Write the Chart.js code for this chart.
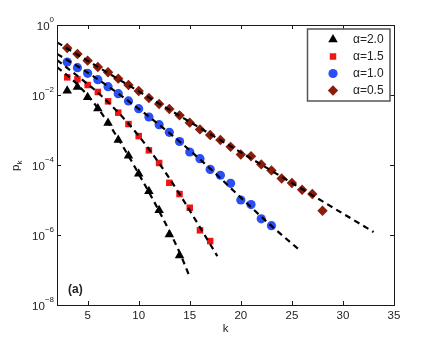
<!DOCTYPE html>
<html><head><meta charset="utf-8">
<script src="https://cdn.jsdelivr.net/npm/chart.js@4/dist/chart.umd.min.js"></script>
<style>html,body{margin:0;padding:0;background:#fff}#wrap{width:436px;height:344px}</style>
</head><body><div id="wrap"><canvas id="c" width="436" height="344"></canvas></div>
<script>
const seriesLabels = ['α=2.0', 'α=1.5', 'α=1.0', 'α=0.5'];
const xTicks = [5, 10, 15, 20, 25, 30, 35];
const yTickExps = [0, -2, -4, -6, -8];

// markers (k, p_k)
const kA20 = [3,4,5,6,7,8,9,10,11,12,13,14];
const pA20 = [0.0133,0.0169,0.0086,0.0041,0.00158,5.2e-4,1.85e-4,5.6e-5,1.77e-5,5.1e-6,1.04e-6,2.6e-7];
const kA15 = [3,4,5,6,7,8,9,10,11,12,13,14,15,16,17];
const pA15 = [0.032,0.028,0.0193,0.0122,0.0066,0.00313,0.00148,6.7e-4,2.62e-4,1.14e-4,3.1e-5,1.48e-5,6.0e-6,1.36e-6,6.7e-7];
const kA10 = [3,4,5,6,7,8,9,10,11,12,13,14,15,16,17,18,19,20,21,22,23];
const pA10 = [0.0877,0.0604,0.0416,0.0274,0.0173,0.0109,0.00675,0.00407,0.00235,0.00142,8.6e-4,4.7e-4,2.35e-4,1.52e-4,7.5e-5,5.1e-5,3.0e-5,1.0e-5,7.4e-6,2.9e-6,1.85e-6];
const kA05 = [3,4,5,6,7,8,9,10,11,12,13,14,15,16,17,18,19,20,21,22,23,24,25,26,27,28];
const pA05 = [0.220,0.148,0.0957,0.0631,0.0445,0.0293,0.0193,0.0130,0.0082,0.00553,0.00398,0.00262,0.00162,0.00104,7.2e-4,5.2e-4,3.3e-4,2.0e-4,1.77e-4,1.04e-4,7.0e-5,4.1e-5,3.06e-5,1.97e-5,1.48e-5,4.95e-6];

// dashed fit curves
const kFit20 = [2,4,6,8,10,12,14,15];
const pFit20 = [0.063,0.02,0.0042,5.6e-4,5.6e-5,4.8e-6,3.2e-7,6.3e-8];
const kFit15 = [2,4,6,8,10,12,14,16,17.7];
const pFit15 = [0.1,0.035,0.0117,0.00316,6.8e-4,1.12e-4,1.48e-5,1.66e-6,2.5e-7];
const kFit10 = [2,5,8,11,14,17,20,23,25.8];
const pFit10 = [0.15,0.0437,0.011,0.0024,4.7e-4,7.9e-5,1.17e-5,1.82e-6,3.6e-7];
const kFit05 = [2,10,20,33];
const pFit05 = [0.32,0.0127,2.3e-4,1.22e-6];

const colors = ['#000000', '#f01414', '#2a4ff5', '#8a1c0a'];
const styles = ['triangle', 'rect', 'circle', 'rectRot'];
const radii = [5.5, 4.6, 4.6, 5.2];

const pts = (ks, ps) => ks.map((k, i) => ({x: k, y: ps[i]}));
const markerSets = [[kA20,pA20],[kA15,pA15],[kA10,pA10],[kA05,pA05]];
const fitSets = [[kFit20,pFit20],[kFit15,pFit15],[kFit10,pFit10],[kFit05,pFit05]];

const datasets = [];
markerSets.forEach((s, i) => datasets.push({
  label: seriesLabels[i], data: pts(s[0], s[1]), showLine: false,
  pointStyle: styles[i], pointRadius: radii[i], pointBackgroundColor: colors[i],
  pointBorderWidth: 0, pointBorderColor: colors[i], order: 1
}));
fitSets.forEach((s, i) => datasets.push({
  label: 'fit', data: pts(s[0], s[1]), showLine: true, pointRadius: 0,
  borderColor: '#000', borderWidth: 2.2, borderDash: [6, 4.5],
  cubicInterpolationMode: 'monotone', fill: false, order: 0
}));

const FONT = '"Liberation Sans", Arial, Helvetica, sans-serif';

const deco = {
  id: 'deco',
  afterDraw(chart) {
    const ctx = chart.ctx, a = chart.chartArea;
    const xs = chart.scales.x, ys = chart.scales.y;
    ctx.save();
    // frame
    ctx.strokeStyle = '#1a1a1a'; ctx.lineWidth = 1;
    ctx.strokeRect(Math.round(a.left) + 0.5, Math.round(a.top) + 0.5,
                   Math.round(a.right - a.left), Math.round(a.bottom - a.top));
    // ticks
    ctx.beginPath();
    xTicks.forEach(v => {
      const px = Math.round(xs.getPixelForValue(v)) + 0.5;
      ctx.moveTo(px, a.bottom); ctx.lineTo(px, a.bottom - 4);
      ctx.moveTo(px, a.top); ctx.lineTo(px, a.top + 4);
    });
    yTickExps.forEach(e => {
      const py = Math.round(ys.getPixelForValue(Math.pow(10, e))) + 0.5;
      ctx.moveTo(a.left, py); ctx.lineTo(a.left + 4, py);
      ctx.moveTo(a.right, py); ctx.lineTo(a.right - 4, py);
    });
    ctx.stroke();
    // x tick labels
    ctx.fillStyle = '#222';
    ctx.font = '11.5px ' + FONT;
    ctx.textAlign = 'center'; ctx.textBaseline = 'middle';
    xTicks.forEach(v => ctx.fillText(String(v), xs.getPixelForValue(v), a.bottom + 11));
    // y tick labels 10^e
    yTickExps.forEach(e => {
      const py = ys.getPixelForValue(Math.pow(10, e));
      const expStr = e === 0 ? '0' : '\u2212' + Math.abs(e);
      ctx.font = '8px ' + FONT;
      const ew = ctx.measureText(expStr).width;
      const right = a.left - 3;
      ctx.textAlign = 'left'; ctx.textBaseline = 'alphabetic';
      ctx.fillText(expStr, right - ew, py - 3);
      ctx.font = '11.5px ' + FONT;
      ctx.textAlign = 'right';
      ctx.fillText('10', right - ew, py + 4.5);
    });
    // axis titles
    ctx.font = '11.5px ' + FONT;
    ctx.textAlign = 'center'; ctx.textBaseline = 'middle';
    ctx.fillText('k', (a.left + a.right) / 2, 329);
    ctx.save();
    ctx.translate(15, (a.top + a.bottom) / 2);
    ctx.rotate(-Math.PI / 2);
    ctx.textAlign = 'left'; ctx.textBaseline = 'alphabetic';
    ctx.font = '11.5px ' + FONT;
    const pw = ctx.measureText('p').width;
    ctx.fillText('p', -6, 4);
    ctx.font = '8px ' + FONT;
    ctx.fillText('k', -6 + pw, 7);
    ctx.restore();
    // panel tag
    ctx.font = 'bold 12px ' + FONT;
    ctx.textAlign = 'left'; ctx.textBaseline = 'middle';
    ctx.fillText('(a)', 68, 290);
    // legend
    const lx = 307.5, ly = 29, lw = 82.5, lh = 72;
    ctx.fillStyle = '#fff';
    ctx.fillRect(lx, ly, lw, lh);
    ctx.strokeStyle = '#555'; ctx.lineWidth = 1.5;
    ctx.strokeRect(lx, ly, lw, lh);
    const rows = [39.5, 56.5, 73.5, 90.5];
    seriesLabels.forEach((lab, i) => {
      ctx.fillStyle = colors[i];
      ctx.strokeStyle = colors[i];
      Chart.helpers.drawPoint(ctx, {pointStyle: styles[i], radius: radii[i], rotation: 0, borderWidth: 0}, 333, rows[i]);
      ctx.fillStyle = '#222';
      ctx.font = '12px ' + FONT;
      ctx.textAlign = 'left'; ctx.textBaseline = 'middle';
      ctx.fillText(lab, 353, rows[i] + 0.5);
    });
    ctx.restore();
  }
};

new Chart(document.getElementById('c'), {
  type: 'scatter',
  data: { datasets },
  options: {
    responsive: false, animation: false, devicePixelRatio: 1,
    layout: { padding: { left: 0, top: 25, right: 42, bottom: 0 } },
    plugins: { legend: { display: false }, tooltip: { enabled: false } },
    scales: {
      x: { type: 'linear', min: 2, max: 35,
           ticks: { display: false }, grid: { display: false }, border: { display: false },
           afterFit: s => { s.height = 39; } },
      y: { type: 'logarithmic', min: 1e-8, max: 1,
           ticks: { display: false }, grid: { display: false }, border: { display: false },
           afterFit: s => { s.width = 57; } }
    }
  },
  plugins: [deco]
});
</script>
</body></html>
